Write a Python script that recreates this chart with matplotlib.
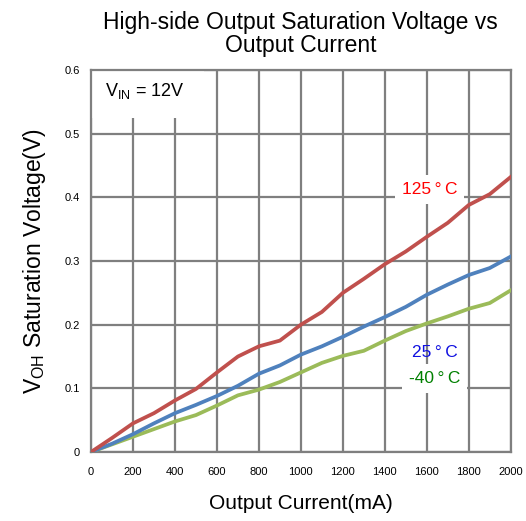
import matplotlib.pyplot as plt
from matplotlib.patches import Rectangle

current = [0, 100, 200, 300, 400, 500, 600, 700, 800, 900, 1000,
           1100, 1200, 1300, 1400, 1500, 1600, 1700, 1800, 1900, 2000]
v_125 = [0, 0.022, 0.045, 0.061, 0.081, 0.099, 0.125, 0.150, 0.166, 0.175, 0.200,
         0.220, 0.250, 0.272, 0.295, 0.315, 0.338, 0.360, 0.388, 0.405, 0.432]
v_25 = [0, 0.013, 0.028, 0.045, 0.061, 0.074, 0.088, 0.104, 0.123, 0.136, 0.153,
        0.166, 0.181, 0.197, 0.212, 0.228, 0.247, 0.263, 0.278, 0.289, 0.307]
v_m40 = [0, 0.012, 0.024, 0.036, 0.048, 0.058, 0.073, 0.089, 0.098, 0.110, 0.125,
         0.140, 0.151, 0.159, 0.175, 0.190, 0.202, 0.213, 0.225, 0.234, 0.254]

plt.rcParams['font.family'] = ['Liberation Sans', 'DejaVu Sans']
narrow = ['Liberation Sans Narrow', 'Liberation Sans']

fig = plt.figure(figsize=(5.26, 5.21), dpi=100)
ax = fig.add_axes([0.173, 0.1324, 0.798, 0.7332])

ax.plot(current, v_m40, color='#9BBB59', lw=2.7, zorder=3)
ax.plot(current, v_25, color='#4F81BD', lw=2.7, zorder=3)
ax.plot(current, v_125, color='#C0504D', lw=2.7, zorder=3)

ax.set_xlim(0, 2000)
ax.set_ylim(0, 0.6)
ax.set_xticks(range(0, 2001, 200))
ax.set_yticks([0, 0.1, 0.2, 0.3, 0.4, 0.5, 0.6])
ax.set_yticklabels(['0', '0.1', '0.2', '0.3', '0.4', '0.5', '0.6'])
ax.grid(True, color='#7F7F7F', lw=1.6)
ax.set_axisbelow(True)
for s in ax.spines.values():
    s.set_color('#7F7F7F')
    s.set_linewidth(1.6)
ax.tick_params(length=0, labelsize=8)
ax.tick_params(axis='x', pad=11)
ax.tick_params(axis='y', pad=8)
for lab in ax.get_xticklabels() + ax.get_yticklabels():
    lab.set_family(narrow)

ax.set_title('High-side Output Saturation Voltage vs\nOutput Current',
             fontsize=16.5, pad=13, linespacing=1.02)
ax.set_xlabel('Output Current(mA)', fontsize=15, labelpad=12)
ax.set_ylabel('V$_{\\mathregular{OH}}$ Saturation Voltage(V)', fontsize=16.5, labelpad=12)

# white box behind the VIN note
ax.add_patch(Rectangle((0, 0.525), 540, 0.075, facecolor='white', edgecolor='none', zorder=2))
ax.text(67, 0.567, 'V$_{\\mathregular{IN}}$ = 12V', fontsize=13, va='center', ha='left', zorder=4)

box = dict(facecolor='white', edgecolor='none', pad=5)
ax.text(1614, 0.413, '125\u2009°\u2009C', color='#FF0000', fontsize=12.5, ha='center',
        va='center', bbox=box, zorder=4)
ax.text(1638, 0.157, '25\u2009°\u2009C', color='#1010E0', fontsize=12.5, ha='center',
        va='center', zorder=4)
ax.text(1638, 0.116, '-40\u2009°\u2009C', color='#008000', fontsize=12.5, ha='center',
        va='center', bbox=box, zorder=4)

fig.savefig('out.png', dpi=100)
